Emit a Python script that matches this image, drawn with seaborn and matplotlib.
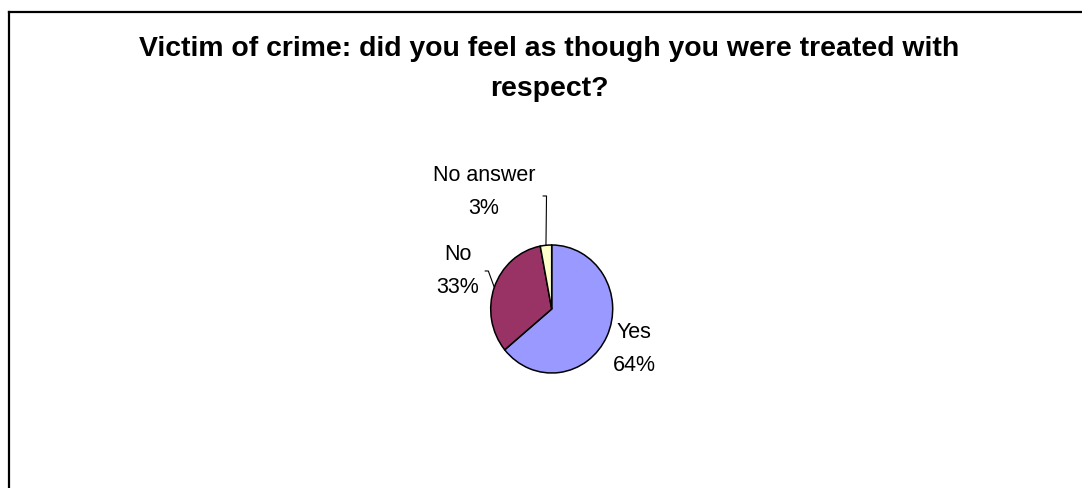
import numpy as np
import matplotlib
matplotlib.use("Agg")
import matplotlib.pyplot as plt
from matplotlib.lines import Line2D
import seaborn as sns

# Survey answers
categories = ["Yes", "No", "No answer"]
shares = [64, 33, 3]
colors = ["#9999FF", "#993366", "#FFFFCC"]
title = "Victim of crime: did you feel as though you were treated with\nrespect?"

sns.set_theme(style="white")
plt.rcParams["font.family"] = ["Liberation Sans", "DejaVu Sans"]

W, H = 1082, 489
fig = plt.figure(figsize=(W / 100, H / 100), dpi=100)
fig.patch.set_facecolor("white")

# Chart frame (top and left edges visible)
fig.add_artist(Line2D([8.5 / W, 8.5 / W], [0, 1 - 12.5 / H], transform=fig.transFigure,
                      color="black", lw=1.6, solid_capstyle="projecting"))
fig.add_artist(Line2D([8.5 / W, 1], [1 - 12.5 / H, 1 - 12.5 / H], transform=fig.transFigure,
                      color="black", lw=1.6, solid_capstyle="projecting"))

fig.text(549.5 / W, 1 - 36 / H, title, ha="center", va="top", fontsize=20.4,
         fontweight="bold", linespacing=1.69, color="black")

# Pie axes: centre (551.7, 310) px, radii 61 x 64 px
cx, cy, rx, ry = 551.7, 310.0, 61.0, 64.0
ax = fig.add_axes([(cx - rx) / W, (H - cy - ry) / H, 2 * rx / W, 2 * ry / H])
wedges, _ = ax.pie(shares, colors=colors, startangle=90, counterclock=False, radius=1.0,
                   wedgeprops=dict(edgecolor="black", linewidth=1.1))
ax.set_xlim(-1, 1)
ax.set_ylim(-1, 1)
ax.set_aspect("auto")
ax.axis("off")

label_pos = [(1.35, -0.61), (-1.536, 0.61), (-1.11, 1.84)]
for cat, val, (lx, ly) in zip(categories, shares, label_pos):
    ax.text(lx, ly, f"{cat}\n{val}%", ha="center", va="center", fontsize=15.5,
            linespacing=1.72, color="black", clip_on=False)

# Leader lines from slice edge to label
def edge_point(w):
    mid = np.deg2rad((w.theta1 + w.theta2) / 2)
    return np.cos(mid), np.sin(mid)

leaders = {1: [(-1.039, 0.594), (-1.093, 0.594)],
           2: [(-0.085, 1.766), (-0.143, 1.766)]}
for i, pts in leaders.items():
    ex, ey = edge_point(wedges[i])
    xs = [ex] + [p[0] for p in pts]
    ys = [ey] + [p[1] for p in pts]
    ax.plot(xs, ys, color="black", lw=0.8, clip_on=False)

fig.savefig("out.png", dpi=100, facecolor="white")
